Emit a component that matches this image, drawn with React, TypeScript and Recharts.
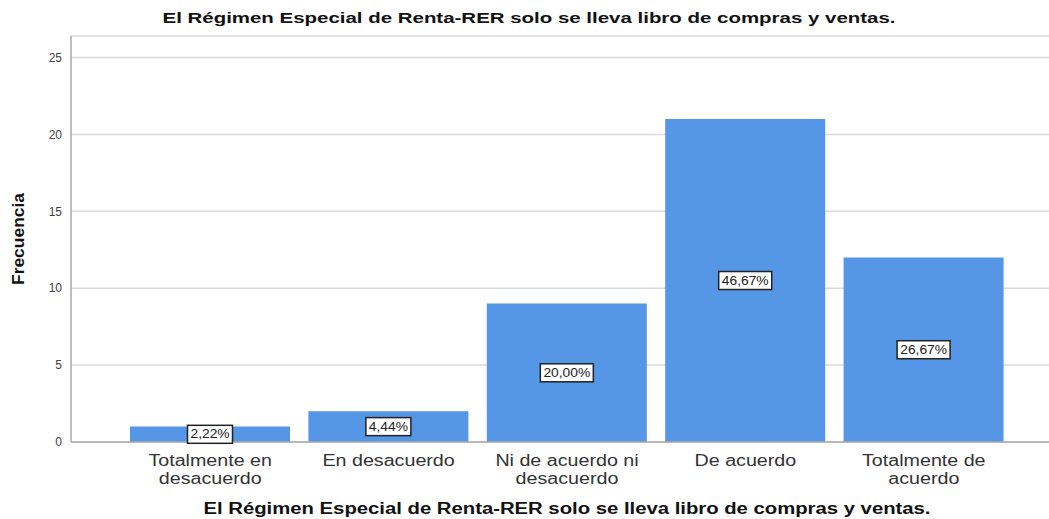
import React from 'react';
import { BarChart, Bar, XAxis, YAxis, CartesianGrid, LabelList } from 'recharts';

const categories = [
  'Totalmente en\ndesacuerdo',
  'En desacuerdo',
  'Ni de acuerdo ni\ndesacuerdo',
  'De acuerdo',
  'Totalmente de\nacuerdo',
];
const frequencies = [1, 2, 9, 21, 12];
const percents = ['2,22%', '4,44%', '20,00%', '46,67%', '26,67%'];
const yTicks = [0, 5, 10, 15, 20, 25];

const TITLE = 'El Régimen Especial de Renta-RER solo se lleva libro de compras y ventas.';
const FONT = '"Liberation Sans", Arial, sans-serif';
const SX = 1.23; // the reference text looks stretched sideways

const data = categories.map((name, i) => ({
  name,
  count: frequencies[i],
  pct: percents[i],
}));

function CategoryTick(props: any) {
  const { x, y, payload } = props;
  const lines = String(payload.value).split('\n');
  return (
    <g transform={`translate(${x},${y}) scale(${SX},1)`}>
      <text x={0} y={0} textAnchor="middle" fill="#333" fontSize={16} fontFamily={FONT}>
        {lines.map((ln, i) => (
          <tspan key={i} x={0} dy={i === 0 ? 16 : 18}>
            {ln}
          </tspan>
        ))}
      </text>
    </g>
  );
}

function PctLabel(props: any) {
  const { x, y, width, height, value } = props;
  const cx = x + width / 2;
  const cy = y + height / 2;
  const w = String(value).length * 8 + 5;
  const h = 18;
  return (
    <g>
      <rect x={cx - w / 2} y={cy - h / 2} width={w} height={h} fill="#fff" stroke="#222" strokeWidth={1.5} />
      <g transform={`translate(${cx},${cy + 4}) scale(1.15,1)`}>
        <text x={0} y={0} textAnchor="middle" fontSize={12} fill="#222" fontFamily={FONT}>
          {value}
        </text>
      </g>
    </g>
  );
}

export default function App() {
  return (
    <div style={{ position: 'absolute', left: 0, top: 0, width: 1049, height: 519, background: '#fff' }}>
      <BarChart
        width={1049}
        height={519}
        data={data}
        margin={{ top: 36, right: 0, bottom: 32, left: 0 }}
        barCategoryGap={9}
      >
        <text
          x={529}
          y={23}
          textAnchor="middle"
          fontSize={15}
          fontWeight="bold"
          fill="#111"
          fontFamily={FONT}
          textLength={733}
          lengthAdjust="spacingAndGlyphs"
        >
          {TITLE}
        </text>
        <text
          x={567}
          y={514}
          textAnchor="middle"
          fontSize={16}
          fontWeight="bold"
          fill="#111"
          fontFamily={FONT}
          textLength={727}
          lengthAdjust="spacingAndGlyphs"
        >
          {TITLE}
        </text>
        <text
          x={24}
          y={239}
          textAnchor="middle"
          fontSize={16}
          fontWeight="bold"
          fill="#111"
          fontFamily={FONT}
          transform="rotate(-90 24 239)"
          textLength={92}
          lengthAdjust="spacingAndGlyphs"
        >
          Frecuencia
        </text>
        <CartesianGrid vertical={false} stroke="#d9d9d9" strokeWidth={1.5} />
        <XAxis
          dataKey="name"
          height={45}
          tick={<CategoryTick />}
          tickLine={false}
          axisLine={{ stroke: '#aaa', strokeWidth: 1.5 }}
          padding={{ left: 50, right: 36 }}
          interval={0}
        />
        <YAxis
          width={71}
          domain={[0, 26.4]}
          ticks={yTicks}
          tickLine={false}
          axisLine={{ stroke: '#aaa', strokeWidth: 1.5 }}
          tick={{ fill: '#444', fontSize: 12, fontFamily: FONT }}
          tickMargin={3}
        />
        <Bar dataKey="count" fill="#5596e6" isAnimationActive={false}>
          <LabelList dataKey="pct" content={<PctLabel />} />
        </Bar>
      </BarChart>
    </div>
  );
}
